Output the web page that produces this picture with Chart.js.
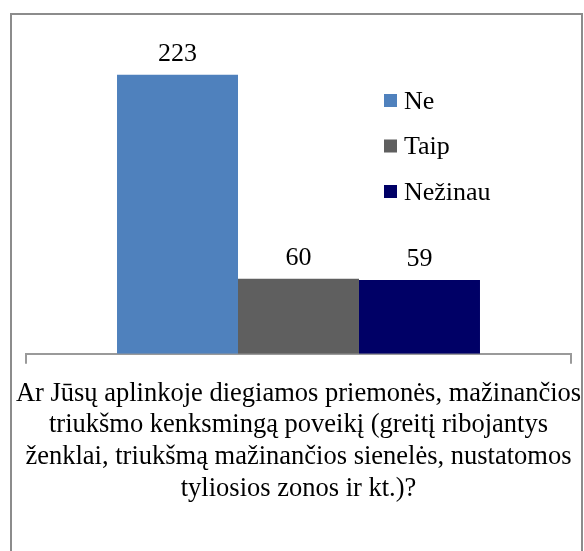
<!DOCTYPE html>
<html>
<head>
<meta charset="utf-8">
<script src="https://cdn.jsdelivr.net/npm/chart.js@4/dist/chart.umd.min.js"></script>
<style>
  html, body { margin: 0; padding: 0; background: #fff; }
  #wrap { position: relative; width: 584px; height: 551px; }
</style>
</head>
<body>
<div id="wrap"><canvas id="barChart" width="584" height="551"></canvas></div>
<script>
// --- duomenys ---
const categoryLabel = [
    'Ar Jūsų aplinkoje diegiamos priemonės, mažinančios',
    'triukšmo kenksmingą poveikį (greitį ribojantys',
    'ženklai, triukšmą mažinančios sienelės, nustatomos',
    'tyliosios zonos ir kt.)?'
];
const seriesNames = ['Ne', 'Taip', 'Nežinau'];
const seriesValues = [223, 60, 59];
const seriesColors = ['#4F81BD', '#5F5F5F', '#000066'];

const serif = '"Liberation Serif", "Times New Roman", serif';

// rėmelis aplink visą diagramą
const framePlugin = {
    id: 'frame',
    beforeDraw(chart) {
        const ctx = chart.ctx;
        ctx.save();
        ctx.strokeStyle = '#8c8c8c';
        ctx.lineWidth = 2;
        ctx.strokeRect(11, 14, 571, 560);
        ctx.restore();
    }
};

// reikšmės virš stulpelių
const valueLabels = {
    id: 'valueLabels',
    afterDatasetsDraw(chart) {
        const ctx = chart.ctx;
        ctx.save();
        ctx.font = '26px ' + serif;
        ctx.fillStyle = '#000';
        ctx.textAlign = 'center';
        ctx.textBaseline = 'alphabetic';
        chart.data.datasets.forEach((ds, i) => {
            chart.getDatasetMeta(i).data.forEach((bar, j) => {
                ctx.fillText(String(ds.data[j]), bar.x, bar.y - 14);
            });
        });
        ctx.restore();
    }
};

// legenda diagramos ploto viduje (dešinėje)
const insideLegend = {
    id: 'insideLegend',
    afterDraw(chart) {
        const ctx = chart.ctx;
        ctx.save();
        ctx.font = '26px ' + serif;
        ctx.textBaseline = 'middle';
        ctx.textAlign = 'left';
        chart.data.datasets.forEach((ds, i) => {
            const y = 101 + i * 45.5;
            ctx.fillStyle = ds.backgroundColor;
            ctx.fillRect(384, y - 7, 13, 13);
            ctx.fillStyle = '#000';
            ctx.fillText(ds.label, 404, y + 1);
        });
        ctx.restore();
    }
};

const datasets = seriesNames.map((name, i) => ({
    label: name,
    data: [seriesValues[i]],
    backgroundColor: seriesColors[i],
    borderWidth: 0,
    categoryPercentage: 0.666,
    barPercentage: 1.0
}));

new Chart(document.getElementById('barChart').getContext('2d'), {
    type: 'bar',
    data: {
        labels: [categoryLabel],
        datasets: datasets
    },
    options: {
        responsive: false,
        animation: false,
        events: [],
        layout: {
            padding: { left: 26, right: 13, top: 41, bottom: 32 }
        },
        plugins: {
            legend: { display: false },
            tooltip: { enabled: false }
        },
        scales: {
            x: {
                offset: true,
                border: { display: true, color: '#9a9a9a', width: 2 },
                grid: {
                    offset: true,
                    drawOnChartArea: false,
                    drawTicks: true,
                    tickLength: 10,
                    color: '#9a9a9a',
                    lineWidth: 2
                },
                ticks: {
                    color: '#000',
                    font: { family: serif, size: 26.5, lineHeight: 1.2 },
                    padding: 14,
                    maxRotation: 0,
                    minRotation: 0,
                    autoSkip: false
                },
                afterFit(scale) {
                    scale.paddingLeft = 0;
                    scale.paddingRight = 0;
                }
            },
            y: {
                display: false,
                min: 0,
                max: 250
            }
        }
    },
    plugins: [framePlugin, valueLabels, insideLegend]
});
</script>
</body>
</html>
